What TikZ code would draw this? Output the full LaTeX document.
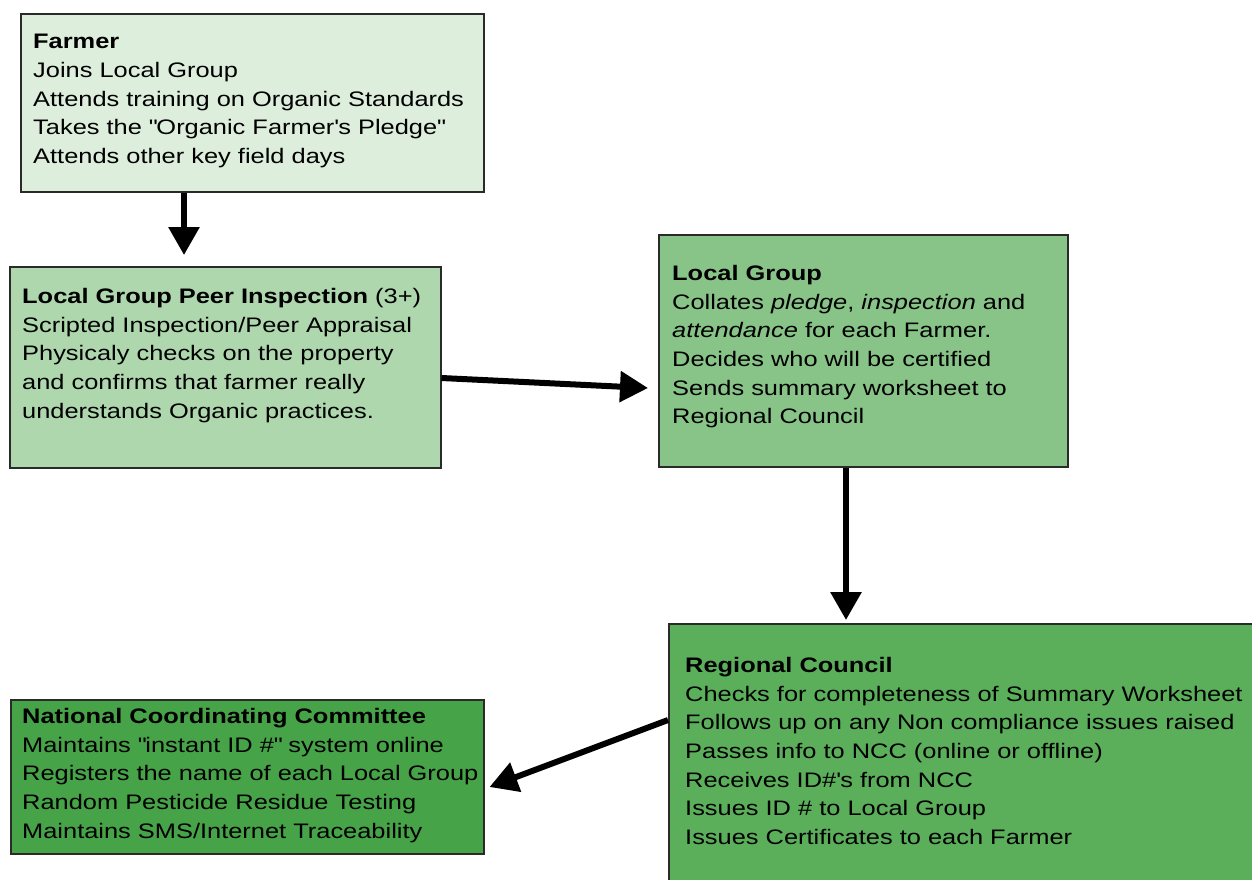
\documentclass[tikz,border=0pt]{standalone}
\usepackage{fontspec}
\setmainfont{Liberation Sans}[FakeStretch=1.21]
\usetikzlibrary{arrows.meta}
\definecolor{cfarmer}{HTML}{DDEEDD}
\definecolor{cpeer}{HTML}{AED7AE}
\definecolor{clg}{HTML}{88C488}
\definecolor{crc}{HTML}{5BAF5B}
\definecolor{cncc}{HTML}{47A347}
\definecolor{cborder}{HTML}{2A2A2A}
\newcommand{\dq}{\textquotedbl}
\begin{document}
\begin{tikzpicture}[x=1pt,y=-1pt,
  box/.style={draw=cborder, line width=1.5pt, anchor=north west, inner sep=0pt},
  txt/.style={anchor=north west, inner sep=0pt, align=left, font=\fontsize{21}{28.7}\selectfont},
  arr/.style={line width=6pt, -{Triangle[width=30pt,length=28pt]}}]
\useasboundingbox (0,0) rectangle (1252,879);
\clip (0,0) rectangle (1252,879);
% boxes
\node[box, fill=cfarmer, minimum width=463pt, minimum height=178pt] (farmer) at (20,13) {};
\node[box, fill=cpeer, minimum width=431pt, minimum height=201pt] (peer) at (9,266) {};
\node[box, fill=clg, minimum width=409pt, minimum height=232pt] (lg) at (658,234) {};
\node[box, fill=crc, minimum width=600pt, minimum height=280pt] (rc) at (668,623) {};
\node[box, fill=cncc, minimum width=473pt, minimum height=154pt] (ncc) at (10,699) {};
% texts
\node[txt] (farmertxt) at (33,34) {\textbf{Farmer}\\Joins Local Group\\Attends training on Organic Standards\\Takes the \dq Organic Farmer\textquotesingle s Pledge\dq\\Attends other key field days};
\node[txt] (peertxt) at (22,288) {\textbf{Local Group Peer Inspection} (3+)\\Scripted Inspection/Peer Appraisal\\Physicaly checks on the property\\and confirms that farmer really\\understands Organic practices.};
\node[txt] (lgtxt) at (672,265) {\textbf{Local Group}\\Collates \textit{pledge}, \textit{inspection} and\\\textit{attendance} for each Farmer.\\Decides who will be certified\\Sends summary worksheet to\\Regional Council};
\node[txt] (rctxt) at (685,657) {\textbf{Regional Council}\\Checks for completeness of Summary Worksheet\\Follows up on any Non compliance issues raised\\Passes info to NCC (online or offline)\\Receives ID\#\textquotesingle s from NCC\\Issues ID \# to Local Group\\Issues Certificates to each Farmer};
\node[txt] (ncctxt) at (22,708) {\textbf{National Coordinating Committee}\\Maintains \dq instant ID \#\dq\ system online\\Registers the name of each Local Group\\Random Pesticide Residue Testing\\Maintains SMS/Internet Traceability};
% arrows
\draw[arr] ([xshift=164pt]farmer.south west) -- ([xshift=175pt,yshift=11pt]peer.north west);
\draw[arr] ([yshift=-112pt]peer.north east) -- ([xshift=-10pt,yshift=-154pt]lg.north west);
\draw[arr] ([xshift=188pt]lg.south west) -- ([xshift=178pt,yshift=3pt]rc.north west);
\draw[arr] ([yshift=-97pt]rc.north west) -- ([xshift=5pt,yshift=-88pt]ncc.north east);
\end{tikzpicture}
\end{document}
